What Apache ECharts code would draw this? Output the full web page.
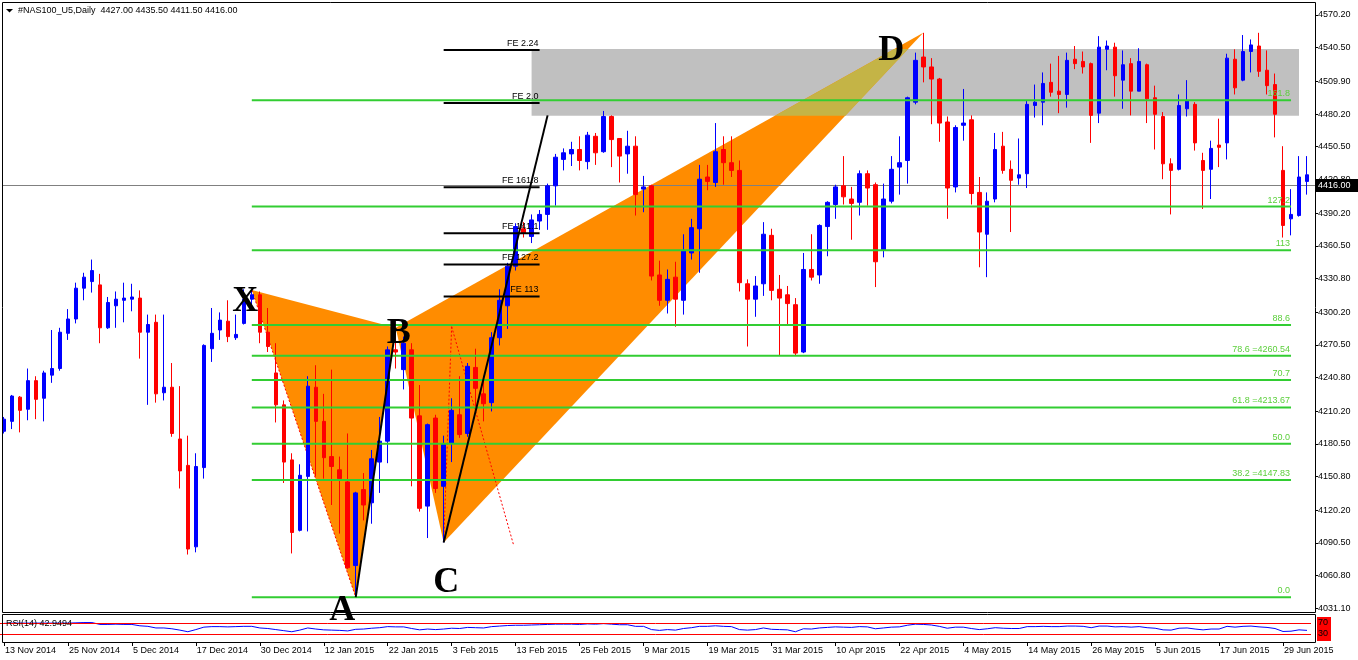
<!DOCTYPE html>
<html><head><meta charset="utf-8">
<script src="https://cdn.jsdelivr.net/npm/echarts@6/dist/echarts.min.js"></script>
<style>html,body{margin:0;padding:0;background:#fff;}#c{width:1358px;height:660px;}</style>
</head><body><div id="c"></div>
<script>
const dates = [
'13 Nov 2014','14 Nov 2014','17 Nov 2014','18 Nov 2014','19 Nov 2014','20 Nov 2014','21 Nov 2014','24 Nov 2014','25 Nov 2014','26 Nov 2014',
'27 Nov 2014','28 Nov 2014','1 Dec 2014','2 Dec 2014','3 Dec 2014','4 Dec 2014','5 Dec 2014','8 Dec 2014','9 Dec 2014','10 Dec 2014',
'11 Dec 2014','12 Dec 2014','15 Dec 2014','16 Dec 2014','17 Dec 2014','18 Dec 2014','19 Dec 2014','22 Dec 2014','23 Dec 2014','24 Dec 2014',
'26 Dec 2014','29 Dec 2014','30 Dec 2014','31 Dec 2014','2 Jan 2015','5 Jan 2015','6 Jan 2015','7 Jan 2015','8 Jan 2015','9 Jan 2015',
'12 Jan 2015','13 Jan 2015','14 Jan 2015','15 Jan 2015','16 Jan 2015','19 Jan 2015','20 Jan 2015','21 Jan 2015','22 Jan 2015','23 Jan 2015',
'26 Jan 2015','27 Jan 2015','28 Jan 2015','29 Jan 2015','30 Jan 2015','2 Feb 2015','3 Feb 2015','4 Feb 2015','5 Feb 2015','6 Feb 2015',
'9 Feb 2015','10 Feb 2015','11 Feb 2015','12 Feb 2015','13 Feb 2015','16 Feb 2015','17 Feb 2015','18 Feb 2015','19 Feb 2015','20 Feb 2015',
'23 Feb 2015','24 Feb 2015','25 Feb 2015','26 Feb 2015','27 Feb 2015','2 Mar 2015','3 Mar 2015','4 Mar 2015','5 Mar 2015','6 Mar 2015',
'9 Mar 2015','10 Mar 2015','11 Mar 2015','12 Mar 2015','13 Mar 2015','16 Mar 2015','17 Mar 2015','18 Mar 2015','19 Mar 2015','20 Mar 2015',
'23 Mar 2015','24 Mar 2015','25 Mar 2015','26 Mar 2015','27 Mar 2015','30 Mar 2015','31 Mar 2015','1 Apr 2015','2 Apr 2015','3 Apr 2015',
'6 Apr 2015','7 Apr 2015','8 Apr 2015','9 Apr 2015','10 Apr 2015','13 Apr 2015','14 Apr 2015','15 Apr 2015','16 Apr 2015','17 Apr 2015',
'20 Apr 2015','21 Apr 2015','22 Apr 2015','23 Apr 2015','24 Apr 2015','27 Apr 2015','28 Apr 2015','29 Apr 2015','30 Apr 2015','1 May 2015',
'4 May 2015','5 May 2015','6 May 2015','7 May 2015','8 May 2015','11 May 2015','12 May 2015','13 May 2015','14 May 2015','15 May 2015',
'18 May 2015','19 May 2015','20 May 2015','21 May 2015','22 May 2015','25 May 2015','26 May 2015','27 May 2015','28 May 2015','29 May 2015',
'1 Jun 2015','2 Jun 2015','3 Jun 2015','4 Jun 2015','5 Jun 2015','8 Jun 2015','9 Jun 2015','10 Jun 2015','11 Jun 2015','12 Jun 2015',
'15 Jun 2015','16 Jun 2015','17 Jun 2015','18 Jun 2015','19 Jun 2015','22 Jun 2015','23 Jun 2015','24 Jun 2015','25 Jun 2015','26 Jun 2015',
'29 Jun 2015','30 Jun 2015','1 Jul 2015','2 Jul 2015'];

const opens = [
4192,4201,4223,4212,4238,4222,4243,4249,4281,4294,
4322,4328,4325,4286,4306,4311,4312,4313,4282,4291,
4227,4232,4185,4161,4087,4159,4267,4284,4292,4277,
4290,4312,4316,4282,4245,4216,4166,4102,4151,4232,
4201,4169,4157,4146,4070,4139,4127,4164,4183,4266,
4248,4266,4206,4124,4204,4142,4181,4207,4190,4250,
4226,4218,4277,4306,4342,4376,4369,4383,4389,4415,
4439,4444,4448,4437,4460,4446,4478,4458,4444,4451,
4412,4415,4334,4311,4332,4311,4354,4376,4423,4418,
4448,4436,4429,4326,4312,4326,4370,4321,4316,4307,
4264,4339,4334,4378,4398,4415,4403,4400,4426,4416,
4357,4401,4432,4438,4491,4532,4523,4512,4473,4414,
4470,4475,4409,4371,4403,4451,4430,4422,4426,4488,
4491,4509,4501,4498,4530,4528,4526,4481,4539,4541,
4511,4526,4501,4525,4495,4478,4435,4430,4485,4489,
4438,4430,4452,4454,4530,4511,4537,4542,4520,4507,
4429,4385,4388,4419];
const highs = [
4205,4225,4224,4249,4242,4247,4284,4286,4303,4327,
4336,4348,4335,4314,4319,4327,4326,4320,4298,4298,
4298,4254,4233,4188,4172,4271,4304,4300,4311,4298,
4321,4320,4319,4304,4272,4220,4172,4162,4242,4252,
4226,4248,4169,4190,4137,4154,4175,4205,4269,4286,
4278,4272,4234,4199,4207,4188,4222,4242,4254,4267,
4242,4282,4321,4345,4381,4382,4389,4393,4417,4444,
4449,4455,4460,4464,4463,4483,4479,4458,4465,4460,
4424,4416,4347,4339,4346,4371,4385,4434,4434,4472,
4460,4460,4438,4330,4333,4382,4376,4334,4324,4313,
4354,4371,4380,4401,4416,4442,4414,4429,4429,4418,
4417,4442,4460,4496,4536,4554,4531,4513,4478,4470,
4503,4479,4423,4409,4463,4464,4438,4458,4492,4507,
4518,4526,4533,4536,4542,4537,4527,4551,4547,4545,
4538,4531,4540,4526,4506,4482,4440,4498,4511,4491,
4445,4456,4476,4535,4539,4552,4548,4554,4538,4517,
4451,4412,4442,4442];
const lows = [
4190,4194,4191,4202,4203,4201,4236,4247,4275,4290,
4311,4318,4272,4285,4286,4291,4301,4258,4216,4218,
4220,4187,4140,4080,4082,4149,4255,4275,4273,4275,
4289,4303,4272,4264,4200,4145,4081,4101,4101,4151,
4149,4125,4099,4067,4041.3,4111,4108,4136,4163,4249,
4230,4142,4119,4095,4136,4091,4164,4186,4187,4213,
4201,4210,4270,4285,4338,4368,4363,4375,4375,4397,
4429,4433,4429,4430,4434,4445,4432,4418,4426,4388,
4391,4329,4306,4299,4287,4298,4348,4336,4411,4414,
4416,4423,4319,4269,4296,4315,4311,4261,4289,4261,
4263,4329,4326,4351,4385,4398,4366,4388,4397,4323,
4350,4399,4407,4417,4489,4509,4471,4455,4385,4409,
4456,4398,4341,4332,4400,4426,4373,4416,4413,4477,
4470,4496,4481,4486,4521,4517,4454,4472,4520,4496,
4485,4479,4501,4472,4448,4421,4389,4429,4478,4447,
4394,4403,4432,4439,4498,4510,4518,4514,4498,4459,
4368,4370,4387,4407];
const closes = [
4203,4224,4211,4238,4221,4245,4249,4282,4294,4322,
4332,4338,4286,4309,4312,4313,4314,4282,4289,4226,
4232,4190,4156,4085,4160,4270,4281,4293,4278,4280,
4312,4316,4282,4269,4216,4164,4100,4152,4233,4201,
4168,4160,4149,4068,4136,4125,4167,4183,4266,4264,
4272,4204,4122,4198,4140,4180,4211,4189,4251,4231,
4217,4277,4311,4342,4378,4372,4384,4389,4415,4441,
4445,4448,4438,4461,4445,4478,4457,4442,4451,4407,
4414,4333,4311,4330,4312,4356,4377,4421,4419,4446,
4436,4429,4327,4312,4324,4371,4320,4313,4308,4263,
4339,4332,4379,4400,4414,4405,4399,4426,4413,4346,
4403,4430,4436,4495,4529,4523,4512,4472,4413,4468,
4472,4408,4373,4401,4448,4429,4420,4425,4489,4491,
4508,4500,4498,4529,4526,4523,4479,4541,4542,4515,
4525,4501,4528,4494,4480,4435,4429,4488,4492,4454,
4429,4449,4450,4531,4504,4537,4543,4519,4506,4480,
4379,4389,4423,4425];
const rsi = [
69,70,70,70,70,70,70,70,70,71,
72,72,65,65,66,65,65,60,58,52,
52,49,44,38,46,55,57,57,56,57,
58,58,52,50,46,42,38,44,52,48,
45,44,43,41,47,48,51,53,57,56,
56,50,45,48,46,48,51,50,54,53,
52,57,59,61,62,62,63,64,65,66,
66,66,65,67,66,68,66,64,64,58,
58,46,43,46,44,50,53,58,58,60,
58,57,46,44,46,52,47,46,45,38,
49,48,52,54,56,55,54,57,56,49,
52,55,56,62,66,65,63,58,51,55,
55,50,46,49,53,51,50,50,57,57,
58,57,57,59,59,58,53,59,59,56,
57,55,57,53,51,45,44,51,52,48,
45,48,48,58,55,58,59,56,54,50,
39,40,45,43];
const rsiLevels = [70, 30];

const yTicks = [4570.2,4540.5,4509.9,4480.2,4450.5,4420.8,4390.2,4360.5,4330.8,4300.2,4270.5,4240.8,4210.2,4180.5,4150.8,4120.2,4090.5,4060.8,4031.1];

const fibPrices = [4041.26,4147.83,4180.75,4213.67,4238.50,4260.54,4288.44,4356.51,4396.12,4492.65];
const fibLabels = ['0.0','38.2 =4147.83','50.0','61.8 =4213.67','70.7','78.6 =4260.54','88.6','113','127.2','161.8'];
const fibRange = [31, 161];

const fePrices = [4314.5,4343.5,4371.8,4413.6,4490.2,4538.4];
const feLabels = ['FE 113','FE 127.2','FE 141.1','FE 161.8','FE 2.0','FE 2.24'];
const feRange = [55, 67];

const patternNames = ['X','A','B','C','D'];
const patternIdx = [31, 44, 49, 55, 115];
const patternPrice = [4320.24, 4041.26, 4286, 4091, 4554];

const zoneIdx = [66, 162];
const zonePrice = [4478.7, 4539.3];

const legCDStart = [55, 4091], legCDEnd = [68, 4479];
const dotApex = [56, 4287], dotEnd = [63.75, 4088.6];
const lastPrice = 4416.00;
const header = '#NAS100_U5,Daily  4427.00 4435.50 4411.50 4416.00';
const rsiTitle = 'RSI(14) 42.9494';

const FONT = 'Liberation Sans, Arial, sans-serif';
const candleData = opens.map((o, i) => [o, closes[i], lows[i], highs[i]]);

function mkP(api) {
  return function (i, p) {
    const a = api.coord([0, p]);
    const b = api.coord([1, p]);
    return [a[0] + (b[0] - a[0]) * i, a[1]];
  };
}
function xAtY(p1, p2, y) {
  return p1[0] + (p2[0] - p1[0]) * (y - p1[1]) / (p2[1] - p1[1]);
}

function bgRender(params, api) {
  const P = mkP(api);
  const ch = [];
  const pts = patternNames.map((n, k) => P(patternIdx[k], patternPrice[k]));
  const [X, A, B, C, D] = pts;
  const r1 = P(zoneIdx[0], zonePrice[1]);
  const r2 = P(zoneIdx[1], zonePrice[0]);
  ch.push({ type: 'rect', shape: { x: r1[0], y: r1[1], width: r2[0] - r1[0], height: r2[1] - r1[1] }, style: { fill: '#c0c0c0' } });
  ch.push({ type: 'polygon', shape: { points: [X, A, B] }, style: { fill: '#ff8c00' } });
  ch.push({ type: 'polygon', shape: { points: [B, C, D] }, style: { fill: '#ff8c00' } });
  const yt = r1[1], yb = r2[1];
  ch.push({ type: 'polygon', shape: { points: [[xAtY(B, D, yb), yb], [xAtY(C, D, yb), yb], [xAtY(C, D, yt), yt], [xAtY(B, D, yt), yt]] }, style: { fill: '#c4b446' } });
  const red = { stroke: '#ff0000', lineWidth: 1, lineDash: [2, 2] };
  ch.push({ type: 'line', shape: { x1: X[0], y1: X[1], x2: A[0], y2: A[1] }, style: red });
  const ap = P(dotApex[0], dotApex[1]), ep = P(dotEnd[0], dotEnd[1]);
  ch.push({ type: 'line', shape: { x1: ap[0], y1: ap[1], x2: C[0], y2: C[1] }, style: red });
  ch.push({ type: 'line', shape: { x1: ap[0], y1: ap[1], x2: ep[0], y2: ep[1] }, style: red });
  const l0 = P(-0.125, lastPrice), l1 = P(164, lastPrice);
  ch.push({ type: 'line', shape: { x1: l0[0], y1: Math.round(l0[1]) + 0.5, x2: l1[0], y2: Math.round(l1[1]) + 0.5 }, style: { stroke: '#808080', lineWidth: 1 } });
  return { type: 'group', children: ch };
}

function fgRender(params, api) {
  const P = mkP(api);
  const ch = [];
  fibPrices.forEach((p, k) => {
    const a = P(fibRange[0], p), b = P(fibRange[1], p);
    ch.push({ type: 'line', shape: { x1: a[0], y1: a[1], x2: b[0], y2: b[1] }, style: { stroke: '#32cd32', lineWidth: 2 } });
    ch.push({ type: 'text', style: { text: fibLabels[k], x: b[0] - 1, y: b[1] - 2, align: 'right', verticalAlign: 'bottom', fill: '#5ccf3c', font: '9px ' + FONT } });
  });
  fePrices.forEach((p, k) => {
    const a = P(feRange[0], p), b = P(feRange[1], p);
    ch.push({ type: 'line', shape: { x1: a[0], y1: a[1], x2: b[0], y2: b[1] }, style: { stroke: '#000', lineWidth: 2 } });
    ch.push({ type: 'text', style: { text: feLabels[k], x: b[0] - 1, y: b[1] - 2, align: 'right', verticalAlign: 'bottom', fill: '#000', font: '9px ' + FONT } });
  });
  const pts = patternNames.map((n, k) => P(patternIdx[k], patternPrice[k]));
  const [X, A, B, C, D] = pts;
  ch.push({ type: 'line', shape: { x1: A[0], y1: A[1], x2: B[0], y2: B[1] }, style: { stroke: '#000', lineWidth: 2 } });
  const s = P(legCDStart[0], legCDStart[1]), e = P(legCDEnd[0], legCDEnd[1]);
  ch.push({ type: 'line', shape: { x1: s[0], y1: s[1], x2: e[0], y2: e[1] }, style: { stroke: '#000', lineWidth: 2 } });
  const offs = [[-6.5, -6], [-13.5, -4], [3, -12], [2.5, 22.5], [-32, 0]];
  pts.forEach((p, k) => {
    ch.push({ type: 'text', style: { text: patternNames[k], x: p[0] + offs[k][0], y: p[1] + offs[k][1], align: 'center', verticalAlign: 'alphabetic', fill: '#000', font: 'bold 36px Liberation Serif, Times New Roman, serif' } });
  });
  const pl = P(164, lastPrice);
  const yy = Math.round(pl[1]);
  ch.push({ type: 'rect', shape: { x: pl[0] + 1, y: yy - 6, width: 43, height: 13 }, style: { fill: '#000' } });
  ch.push({ type: 'text', style: { text: lastPrice.toFixed(2), x: pl[0] + 3, y: yy + 1, align: 'left', verticalAlign: 'middle', fill: '#fff', font: '9px ' + FONT } });
  return { type: 'group', children: ch };
}

const chart = echarts.init(document.getElementById('c'), null, { renderer: 'canvas' });
chart.setOption({
  animation: false,
  backgroundColor: '#ffffff',
  grid: [
    { left: -1, top: 2, width: 1312, height: 610 },
    { left: -1, top: 615, width: 1312, height: 27 }
  ],
  xAxis: [
    { type: 'category', gridIndex: 0, data: dates, boundaryGap: true, show: false },
    { type: 'category', gridIndex: 1, data: dates, boundaryGap: true,
      axisLine: { show: false },
      axisTick: { show: true, alignWithLabel: true, interval: 7, length: 4, lineStyle: { color: '#000' } },
      axisLabel: { interval: 7, align: 'left', margin: 4, color: '#000', fontSize: 9, fontFamily: FONT, padding: [0, 0, 0, 1] },
      splitLine: { show: false } }
  ],
  yAxis: [
    { type: 'value', gridIndex: 0, position: 'right', offset: 4, min: 4027.8, max: 4582.0, scale: true,
      axisLine: { show: false },
      axisTick: { show: true, customValues: yTicks, length: 3, lineStyle: { color: '#000' } },
      axisLabel: { customValues: yTicks, formatter: v => v.toFixed(2), color: '#000', fontSize: 9, fontFamily: FONT, margin: 3 },
      splitLine: { show: false } },
    { type: 'value', gridIndex: 1, min: 0, max: 100, show: false }
  ],
  series: [
    { type: 'custom', name: 'bg', xAxisIndex: 0, yAxisIndex: 0, z: 1, clip: false, silent: true, data: [[0, 4300]], renderItem: bgRender },
    { type: 'candlestick', name: 'NAS100', xAxisIndex: 0, yAxisIndex: 0, z: 3, data: candleData, barWidth: 4,
      itemStyle: { color: '#0000ff', color0: '#ff0000', borderColor: '#0000ff', borderColor0: '#ff0000', borderWidth: 1 } },
    { type: 'custom', name: 'fg', xAxisIndex: 0, yAxisIndex: 0, z: 5, clip: false, silent: true, data: [[0, 4300]], renderItem: fgRender },
    { type: 'line', name: 'RSI', xAxisIndex: 1, yAxisIndex: 1, data: rsi, symbol: 'none', lineStyle: { color: '#0000ff', width: 1 },
      markLine: { silent: true, symbol: 'none', label: { show: false }, lineStyle: { color: '#ff0000', type: 'solid', width: 1 },
        data: rsiLevels.map(v => ({ yAxis: v })) } }
  ],
  graphic: [
    { type: 'rect', z: 100, silent: true, shape: { x: 2.5, y: 2.5, width: 1313, height: 610 }, style: { fill: 'none', stroke: '#000', lineWidth: 1 } },
    { type: 'rect', z: 100, silent: true, shape: { x: 2.5, y: 614.5, width: 1313, height: 28 }, style: { fill: 'none', stroke: '#000', lineWidth: 1 } },
    { type: 'polygon', z: 100, silent: true, shape: { points: [[6, 9], [13, 9], [9.5, 12.5]] }, style: { fill: '#000' } },
    { type: 'text', z: 100, silent: true, x: 18, y: 11, style: { text: header, font: '9px ' + FONT, fill: '#000', verticalAlign: 'middle' } },
    { type: 'text', z: 100, silent: true, x: 6, y: 624, style: { text: rsiTitle, font: '9px ' + FONT, fill: '#000', verticalAlign: 'middle' } },
    { type: 'rect', z: 100, silent: true, shape: { x: 1317, y: 617, width: 14, height: 24 }, style: { fill: '#ff0000' } },
    { type: 'text', z: 101, silent: true, x: 1318, y: 623, style: { text: '70', font: '9px ' + FONT, fill: '#000', verticalAlign: 'middle' } },
    { type: 'text', z: 101, silent: true, x: 1318, y: 634, style: { text: '30', font: '9px ' + FONT, fill: '#000', verticalAlign: 'middle' } }
  ]
});
</script></body></html>
